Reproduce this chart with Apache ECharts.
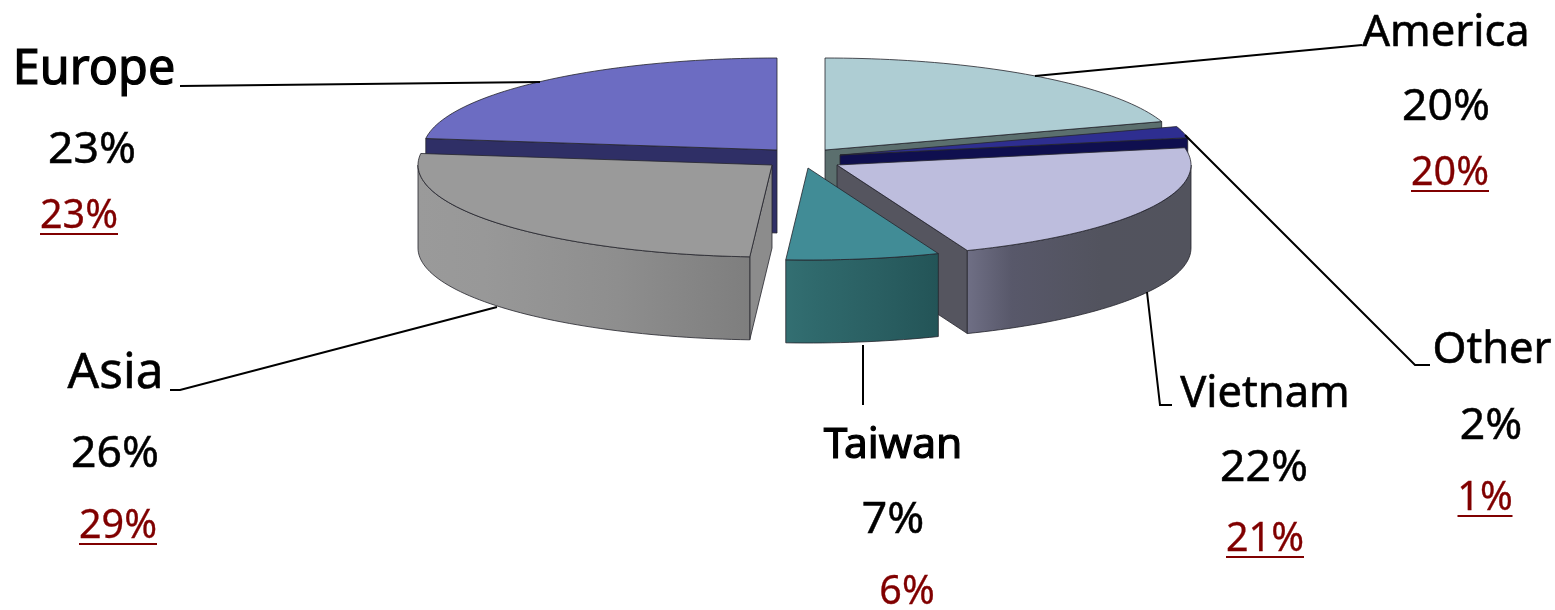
<!DOCTYPE html>
<html>
<head>
<meta charset="utf-8">
<style>html,body{margin:0;padding:0;background:#fff}#c{width:1555px;height:610px}</style>
<script src="https://cdn.jsdelivr.net/npm/echarts@6/dist/echarts.min.js"></script>
</head>
<body>
<div id="c"></div>
<script>
// Data, clockwise from 12 o'clock
var categories = ['America', 'Other', 'Vietnam', 'Taiwan', 'Asia', 'Europe'];
var shareTop = [20, 2, 22, 7, 26, 23];
var shareBottom = [20, 1, 21, 6, 29, 23];

// Styles and layout
var RX = 354, RY = 92, DEPTH = 83;
var apex = { America: [825, 150], Other: [840, 155], Vietnam: [837, 165], Taiwan: [808, 168], Asia: [772, 165], Europe: [777, 150] };
var drawOrder = ['Europe', 'America', 'Other', 'Vietnam', 'Asia', 'Taiwan'];
var topColor = { America: '#aecdd3', Other: '#2e2e90', Vietnam: '#bdbddd', Taiwan: '#418c96', Asia: '#9a9a9a', Europe: '#6c6cc2' };
var wallColor = { America: '#5b6f6e', Other: '#0f0f4f', Vietnam: '#55555f', Taiwan: '#2c6467', Asia: '#8c8c8c', Europe: '#2f2f66' };
var rimStops = {
  Vietnam: ['#6f6f85', '#58586a', '#52535e', '#52535d'],
  Taiwan: ['#336f72', '#2f696c', '#2a5f62', '#235457'],
  Asia: ['#9a9a9a', '#989898', '#8e8e8e', '#7e7e7e'],
  America: ['#5b6f6e', '#5b6f6e', '#5b6f6e', '#5b6f6e'],
  Other: ['#0f0f4f', '#0f0f4f', '#0f0f4f', '#0f0f4f'],
  Europe: ['#2f2f66', '#2f2f66', '#2f2f66', '#2f2f66']
};
var lineColor = '#24242c';

var labelLayout = {
  America: { size: 43.5, bold: 0.6, x: [1446, 1446, 1450], y: [34, 107, 174], under: true },
  Other: { size: 43.5, bold: 0.6, x: [1492, 1491, 1485], y: [351, 426, 499], under: true },
  Vietnam: { size: 43.5, bold: 0.6, x: [1265, 1264, 1265], y: [395, 468, 540], under: true },
  Taiwan: { size: 42.5, bold: 1.2, x: [893, 893, 907], y: [446, 520, 593], under: false },
  Asia: { size: 49.5, bold: 0.6, x: [115.5, 115, 118], y: [374, 454, 527], under: true },
  Europe: { size: 48.5, bold: 1.2, x: [94, 92, 79], y: [70, 150, 217], under: true }
};
var leaders = [
  [[180, 86], [540, 82]],
  [[1362, 45], [1035, 76]],
  [[1430, 365], [1415, 365], [1185, 135]],
  [[1172, 405], [1160, 405], [1147, 292]],
  [[863, 345], [863, 405]],
  [[170, 390], [180, 390], [497, 307]]
];

var total = shareTop.reduce(function (a, b) { return a + b; }, 0);
var angles = {};
var cum = 0;
categories.forEach(function (n, i) {
  angles[n] = [cum / total * 360, (cum + shareTop[i]) / total * 360];
  cum += shareTop[i];
});
function rimPt(c, deg, dy) {
  var r = deg * Math.PI / 180;
  return [c[0] + RX * Math.sin(r), c[1] - RY * Math.cos(r) + (dy || 0)];
}
function arc(c, a0, a1, dy) {
  var pts = [], n = Math.max(2, Math.ceil(Math.abs(a1 - a0) / 1.5));
  for (var i = 0; i <= n; i++) pts.push(rimPt(c, a0 + (a1 - a0) * i / n, dy));
  return pts;
}
function poly(points, fill, w) {
  return { type: 'polygon', shape: { points: points }, style: { fill: fill, stroke: lineColor, lineWidth: w === undefined ? 0.8 : w } };
}
function edgeWall(c, deg, name) {
  var p = rimPt(c, deg);
  return poly([c, p, [p[0], p[1] + DEPTH], [c[0], c[1] + DEPTH]], wallColor[name]);
}
function renderSlice(params, api) {
  var name = drawOrder[api.value(0)];
  var c = apex[name], a = angles[name], kids = [];
  var s0 = Math.sin(a[0] * Math.PI / 180), s1 = Math.sin(a[1] * Math.PI / 180);
  if (s0 < -1e-6) kids.push(edgeWall(c, a[0], name));
  if (s1 > 1e-6) kids.push(edgeWall(c, a[1], name));
  var r0 = Math.max(a[0], 90), r1 = Math.min(a[1], 270);
  if (r1 > r0) {
    var top = arc(c, r0, r1, 0), bottom = arc(c, r1, r0, DEPTH);
    var st = rimStops[name];
    kids.push(poly(top.concat(bottom), new echarts.graphic.LinearGradient(0, 0, 1, 0, [
      { offset: 0, color: st[0] }, { offset: 0.2, color: st[1] }, { offset: 0.6, color: st[2] }, { offset: 1, color: st[3] }
    ])));
  }
  kids.push(poly([c].concat(arc(c, a[0], a[1], 0)), topColor[name]));
  return { type: 'group', children: kids };
}

var graphics = [];
leaders.forEach(function (pts) {
  graphics.push({ type: 'polyline', z: 5, shape: { points: pts }, style: { stroke: '#000', lineWidth: 2, fill: null } });
});
categories.forEach(function (name, i) {
  var L = labelLayout[name];
  var lines = [name, shareTop[i] + '%', shareBottom[i] + '%'];
  var sizes = [L.size, 44.5, 39.5];
  var colors = ['#000', '#000', '#800000'];
  var strokes = [L.bold, 0.5, 0.3];
  lines.forEach(function (t, k) {
    graphics.push({
      type: 'text', z: 6, x: L.x[k], y: L.y[k],
      style: { text: t, fill: colors[k], stroke: colors[k], lineWidth: strokes[k], font: '400 ' + sizes[k] + 'px "Noto Sans", sans-serif', textAlign: 'center', textVerticalAlign: 'middle' }
    });
  });
  if (L.under) {
    var hw = String(shareBottom[i]).length > 1 ? 39 : 27.5;
    graphics.push({
      type: 'line', z: 6,
      shape: { x1: L.x[2] - hw, y1: L.y[2] + 17, x2: L.x[2] + hw, y2: L.y[2] + 17 },
      style: { stroke: '#800000', lineWidth: 2 }
    });
  }
});

var chart = echarts.init(document.getElementById('c'), null, { renderer: 'canvas' });
chart.setOption({
  backgroundColor: '#fff',
  animation: false,
  tooltip: { show: false },
  series: [{
    type: 'custom',
    coordinateSystem: 'none',
    silent: true,
    renderItem: renderSlice,
    data: drawOrder.map(function (n, i) { return [i, shareTop[categories.indexOf(n)]]; })
  }],
  graphic: graphics
});
</script>
</body>
</html>
